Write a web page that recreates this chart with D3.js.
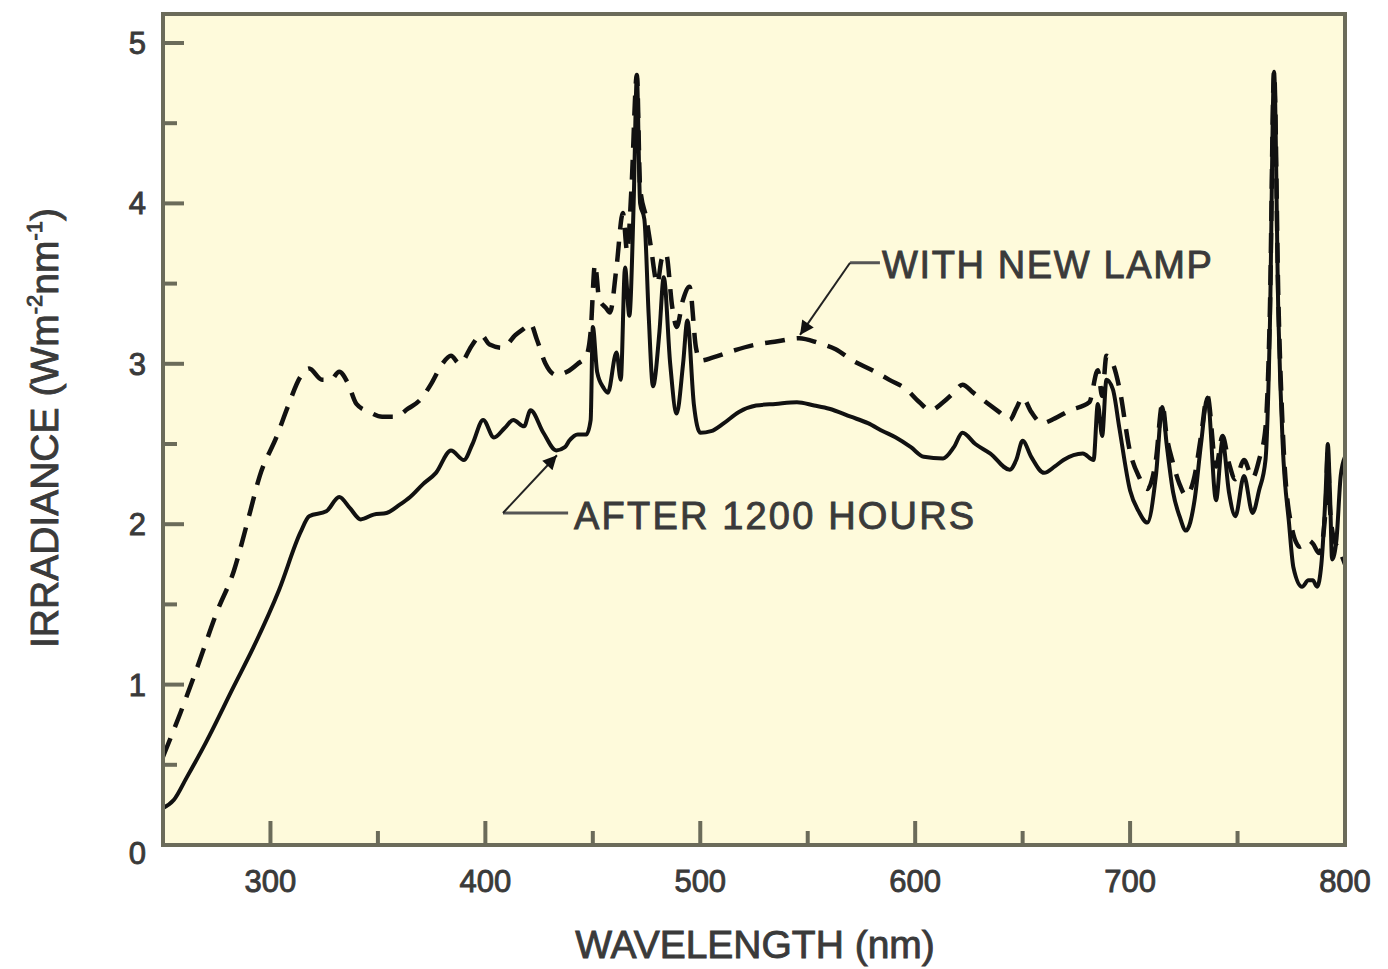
<!DOCTYPE html>
<html>
<head>
<meta charset="utf-8">
<script src="https://cdn.jsdelivr.net/npm/d3@7"></script>
<style>
  body { margin: 0; background: #fff; }
  svg text { font-family: "Liberation Sans", Arial, Helvetica, sans-serif; fill: #3a3a3a; stroke: #3a3a3a; stroke-width: 0.9px; }
</style>
</head>
<body>
<svg id="chart"></svg>
<script>
var width = 1388,
  height = 969;

// after 1200 hours (solid)
var agedWl = [250, 255, 261, 270, 283, 292, 304, 314, 318, 326, 332, 337, 342, 348, 354, 360, 365, 371, 377, 384, 390, 394, 399, 404, 409, 413, 418, 421, 427, 433, 437, 439, 443, 447, 449, 450, 452, 455, 457, 461, 463, 465, 467, 469, 470.5, 472, 474, 476, 478, 481, 483, 486, 489, 492, 494, 497, 500, 505, 511, 518, 526, 535, 545, 553, 560, 570, 578, 585, 591, 598, 604, 613, 618, 622, 628, 635, 644, 647, 650, 654, 660, 665, 669, 678, 683, 685, 687, 689, 692, 695, 700, 704, 708, 712, 715, 717, 720, 723, 726, 730, 733, 736, 740, 743, 746, 749, 753, 757, 760, 763, 765, 767, 769, 771, 774, 776, 780, 783, 785, 787, 789, 791, 792, 793, 794, 796, 798, 800];
var agedIrr = [0.23, 0.28, 0.42, 0.64, 0.99, 1.23, 1.59, 1.95, 2.05, 2.08, 2.17, 2.1, 2.03, 2.06, 2.07, 2.12, 2.17, 2.25, 2.32, 2.46, 2.40, 2.5, 2.65, 2.54, 2.6, 2.65, 2.61, 2.71, 2.57, 2.46, 2.48, 2.52, 2.56, 2.56, 2.65, 3.23, 2.95, 2.85, 2.82, 3.07, 2.9, 3.6, 3.3, 4.0, 4.79, 4.0, 3.9, 3.3, 2.86, 3.2, 3.54, 3.0, 2.69, 3.0, 3.27, 2.75, 2.57, 2.58, 2.63, 2.7, 2.74, 2.75, 2.76, 2.74, 2.72, 2.67, 2.63, 2.58, 2.54, 2.48, 2.42, 2.41, 2.48, 2.57, 2.5, 2.44, 2.34, 2.4, 2.52, 2.42, 2.32, 2.36, 2.40, 2.44, 2.40, 2.75, 2.55, 2.9, 2.84, 2.6, 2.21, 2.08, 2.01, 2.3, 2.73, 2.5, 2.2, 2.05, 1.96, 2.15, 2.5, 2.79, 2.15, 2.52, 2.2, 2.05, 2.3, 2.07, 2.21, 2.4, 3.2, 4.82, 3.3, 2.5, 2.0, 1.73, 1.61, 1.65, 1.65, 1.61, 1.75, 2.2, 2.5, 2.2, 1.78, 1.9, 2.3, 2.42];

// with new lamp (dashed)
var newWl = [250, 258, 266, 275, 283, 290, 295, 303, 308, 314, 318, 324, 328, 332, 336, 340, 346, 352, 358, 364, 370, 375, 380, 384, 388, 394, 398, 402, 408, 414, 418, 421, 424, 428, 433, 438, 443, 447, 449, 451, 453, 456, 458, 461, 464, 466, 468, 470.5, 472, 475, 477, 480, 482, 484, 487, 489, 492, 495, 498, 500, 506, 515, 526, 536, 546, 555, 563, 571, 580, 588, 596, 602, 607, 613, 618, 622, 627, 633, 639, 644, 647, 650, 654, 659, 665, 672, 681, 685, 687, 689, 692, 695, 700, 704, 708, 712, 715, 717, 720, 723, 726, 730, 733, 736, 740, 743, 746, 749, 753, 757, 760, 763, 765, 767, 769, 771, 774, 779, 783, 785, 788, 791, 792, 793, 795, 797, 800];
var newIrr = [0.55, 0.82, 1.11, 1.45, 1.71, 2.05, 2.3, 2.55, 2.73, 2.92, 2.97, 2.9, 2.9, 2.95, 2.88, 2.75, 2.70, 2.67, 2.67, 2.72, 2.78, 2.88, 3.0, 3.05, 3.0, 3.12, 3.18, 3.12, 3.1, 3.18, 3.22, 3.25, 3.15, 3.0, 2.93, 2.95, 3.0, 3.05, 3.2, 3.62, 3.4, 3.35, 3.32, 3.6, 3.94, 3.7, 4.1, 4.8, 4.1, 3.9, 3.73, 3.5, 3.65, 3.69, 3.35, 3.23, 3.4, 3.48, 3.1, 3.02, 3.04, 3.08, 3.12, 3.14, 3.16, 3.13, 3.09, 3.02, 2.96, 2.9, 2.84, 2.76, 2.71, 2.76, 2.82, 2.87, 2.82, 2.76, 2.7, 2.65, 2.72, 2.79, 2.7, 2.63, 2.66, 2.71, 2.76, 2.96, 2.8, 3.05, 3.0, 2.85, 2.45, 2.3, 2.22, 2.4, 2.75, 2.55, 2.38, 2.25, 2.18, 2.3, 2.55, 2.8, 2.36, 2.55, 2.38, 2.28, 2.4, 2.29, 2.4, 2.6, 3.3, 4.82, 3.4, 2.6, 2.07, 1.86, 1.9, 1.88, 1.82, 2.1, 2.45, 2.1, 1.9, 1.85, 1.75];

var xMajor = [300, 400, 500, 600, 700, 800];
var xMinor = [350, 450, 550, 650, 750];
var yMajor = [0, 1, 2, 3, 4, 5];
var yMinor = [0.5, 1.5, 2.5, 3.5, 4.5];

// annotation anchors in data units: arrow tip, elbow, end of the short horizontal
var newLampNote = { tip: [546.4, 3.18], elbow: [569.7, 3.63], end: 583.6, text: "WITH NEW LAMP" };
var agedNote = { tip: [433.3, 2.43], elbow: [408.2, 2.07], end: 438.5, text: "AFTER 1200 HOURS" };

var plotLeft = 163, plotRight = 1345, plotTop = 14, plotBottom = 845;

var x = d3.scaleLinear().domain([250, 800]).range([plotLeft, plotRight]);
var y = d3.scaleLinear().domain([0, 5]).range([plotBottom, 43]);

var svg = d3.select("#chart")
  .attr("width", width)
  .attr("height", height);

svg.append("defs").append("marker")
  .attr("id", "head")
  .attr("viewBox", "0 0 10 10")
  .attr("refX", 10)
  .attr("refY", 5)
  .attr("markerUnits", "userSpaceOnUse")
  .attr("markerWidth", 26)
  .attr("markerHeight", 14)
  .attr("orient", "auto")
  .append("path")
  .attr("d", "M0,0L10,5L0,10Z")
  .attr("fill", "#111");

// plot area
svg.append("rect")
  .attr("x", plotLeft)
  .attr("y", plotTop)
  .attr("width", plotRight - plotLeft)
  .attr("height", plotBottom - plotTop)
  .attr("fill", "#fefadb");

// inward ticks
var axisColor = "#6b6b5a";
var tickG = svg.append("g").attr("stroke", axisColor).attr("stroke-width", 4);
tickG.selectAll(".xmaj").data(xMajor).enter().append("line")
  .attr("x1", x).attr("x2", x)
  .attr("y1", plotBottom).attr("y2", plotBottom - 24);
tickG.selectAll(".xmin").data(xMinor).enter().append("line")
  .attr("x1", x).attr("x2", x)
  .attr("y1", plotBottom).attr("y2", plotBottom - 14);
tickG.selectAll(".ymaj").data(yMajor).enter().append("line")
  .attr("x1", plotLeft).attr("x2", plotLeft + 21)
  .attr("y1", y).attr("y2", y);
tickG.selectAll(".ymin").data(yMinor).enter().append("line")
  .attr("x1", plotLeft).attr("x2", plotLeft + 14)
  .attr("y1", y).attr("y2", y);

// tick labels
svg.append("g").selectAll("text").data(xMajor).enter().append("text")
  .attr("x", x)
  .attr("y", plotBottom + 47)
  .attr("text-anchor", "middle")
  .attr("font-size", 31)
  .text(function (d) { return d; });

svg.append("g").selectAll("text").data(yMajor).enter().append("text")
  .attr("x", 146)
  .attr("y", function (d) { return y(d) + (d == 0 ? 19 : 11); })
  .attr("text-anchor", "end")
  .attr("font-size", 31)
  .text(function (d) { return d; });

// curves
var line = d3.line()
  .curve(d3.curveMonotoneX)
  .x(function (d) { return x(d[0]); })
  .y(function (d) { return y(d[1]); });

var newData = newWl.map(function (w, i) { return [w, newIrr[i]]; });
var agedData = agedWl.map(function (w, i) { return [w, agedIrr[i]]; });

var plot = svg.append("g");
plot.append("path")
  .datum(newData)
  .attr("d", line)
  .attr("fill", "none")
  .attr("stroke", "#111")
  .attr("stroke-width", 4.5)
  .attr("stroke-dasharray", "20,12")
  .attr("stroke-linejoin", "round");

plot.append("path")
  .datum(agedData)
  .attr("d", line)
  .attr("fill", "none")
  .attr("stroke", "#111")
  .attr("stroke-width", 4)
  .attr("stroke-linejoin", "round");

// frame
svg.append("rect")
  .attr("x", plotLeft)
  .attr("y", plotTop)
  .attr("width", plotRight - plotLeft)
  .attr("height", plotBottom - plotTop)
  .attr("fill", "none")
  .attr("stroke", axisColor)
  .attr("stroke-width", 4);

// annotations
function drawNote(note, textDx, textDy, textLen) {
  var g = svg.append("g");
  g.append("path")
    .attr("d", "M" + x(note.end) + "," + y(note.elbow[1]) +
      "L" + x(note.elbow[0]) + "," + y(note.elbow[1]))
    .attr("stroke", "#555")
    .attr("stroke-width", 3)
    .attr("fill", "none");
  g.append("line")
    .attr("x1", x(note.elbow[0]))
    .attr("y1", y(note.elbow[1]))
    .attr("x2", x(note.tip[0]))
    .attr("y2", y(note.tip[1]))
    .attr("stroke", "#222")
    .attr("stroke-width", 2)
    .attr("marker-end", "url(#head)");
  g.append("text")
    .attr("x", x(note.end) + textDx)
    .attr("y", y(note.elbow[1]) + textDy)
    .attr("font-size", 38)
    .attr("textLength", textLen)
    .text(note.text);
}
drawNote(newLampNote, 2, 15, 330);
drawNote(agedNote, 6, 16, 400);

// axis titles
svg.append("text")
  .attr("x", (plotLeft + plotRight) / 2 + 1)
  .attr("y", 958)
  .attr("text-anchor", "middle")
  .attr("font-size", 39)
  .text("WAVELENGTH (nm)");

var yTitle = svg.append("text")
  .attr("transform", "translate(58,428) rotate(-90)")
  .attr("text-anchor", "middle")
  .attr("font-size", 39);
yTitle.append("tspan").text("IRRADIANCE (Wm");
yTitle.append("tspan").attr("font-size", 22).attr("dy", -16).text("-2");
yTitle.append("tspan").attr("dy", 16).text("nm");
yTitle.append("tspan").attr("font-size", 22).attr("dy", -16).text("-1");
yTitle.append("tspan").attr("dy", 16).text(")");
</script>
</body>
</html>
